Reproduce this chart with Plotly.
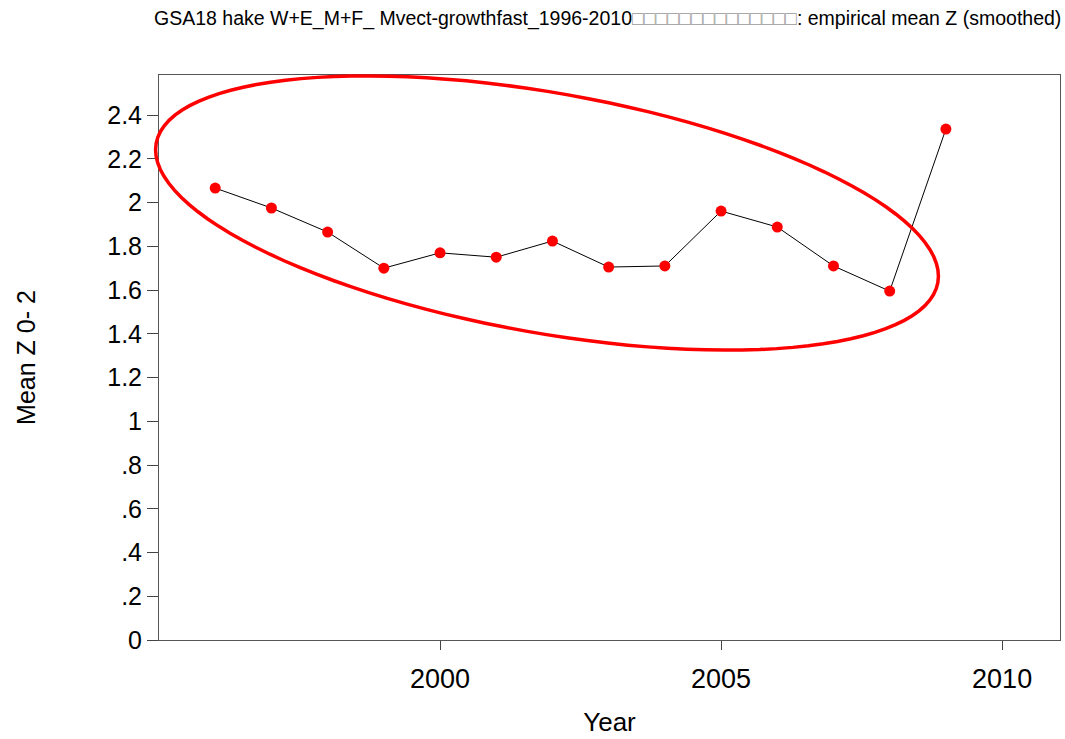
import numpy as np
import plotly.graph_objects as go

years = [1996, 1997, 1998, 1999, 2000, 2001, 2002, 2003, 2004, 2005, 2006, 2007, 2008, 2009]
mean_z = [2.066, 1.975, 1.865, 1.700, 1.770, 1.750, 1.824, 1.705, 1.710, 1.961, 1.888, 1.710, 1.595, 2.336]

y_tickvals = [0, 0.2, 0.4, 0.6, 0.8, 1, 1.2, 1.4, 1.6, 1.8, 2, 2.2, 2.4]
y_ticktext = ["0", ".2", ".4", ".6", ".8", "1", "1.2", "1.4", "1.6", "1.8", "2", "2.2", "2.4"]
x_tickvals = [2000, 2005, 2010]

title_text = ("GSA18 hake W+E_M+F_ Mvect-growthfast_1996-2010"
              + "<span style='color:#9a9a9a'>" + "\u25a1" * 14 + "</span>"
              + ": empirical mean Z (smoothed)")

W, H = 1065, 739
ML, MR, MT, MB = 159, 5, 75, 99
plot_w = W - ML - MR
plot_h = H - MT - MB
FONT = "Liberation Sans, Arial, sans-serif"

fig = go.Figure()
fig.add_trace(go.Scatter(
    x=years, y=mean_z, mode="lines+markers",
    line=dict(color="black", width=1),
    marker=dict(color="red", size=11, line=dict(width=0)),
    showlegend=False,
))

# Highlight ellipse, defined in pixel space and converted to paper coordinates
cx, cy = 547, 213          # centre (px)
a, b = 397, 120            # semi-axes (px)
theta = np.deg2rad(10.1)   # tilt, clockwise on screen
t = np.linspace(0, 2 * np.pi, 121)
px = cx + a * np.cos(theta) * np.cos(t) - b * np.sin(theta) * np.sin(t)
py = cy + a * np.sin(theta) * np.cos(t) + b * np.cos(theta) * np.sin(t)
xp = (px - ML) / plot_w
yp = (H - MB - py) / plot_h
path = "M " + " L ".join(f"{x:.5f},{y:.5f}" for x, y in zip(xp, yp)) + " Z"
fig.add_shape(type="path", path=path, xref="paper", yref="paper",
              line=dict(color="red", width=3.5))

fig.add_annotation(text=title_text, xref="paper", yref="paper",
                   x=(607 - ML) / plot_w, y=(H - MB - 19) / plot_h,
                   xanchor="center", yanchor="middle", showarrow=False,
                   font=dict(family=FONT, size=19.5, color="black"))

fig.update_layout(
    width=W, height=H,
    margin=dict(l=ML, r=MR, t=MT, b=MB),
    paper_bgcolor="white", plot_bgcolor="white",
    xaxis=dict(range=[1995.0, 2011.03], tickvals=x_tickvals, ticks="outside", ticklen=9,
               tickcolor="#444", showgrid=False, zeroline=False,
               showline=True, linecolor="#555", linewidth=1, mirror=True,
               ticklabelstandoff=6,
               tickfont=dict(family=FONT, size=27, color="black"),
               title=dict(text="Year", standoff=19,
                          font=dict(family=FONT, size=26, color="black"))),
    yaxis=dict(range=[0, 2.583], tickvals=y_tickvals, ticktext=y_ticktext, ticks="outside", ticklen=11,
               tickcolor="#444", showgrid=False, zeroline=False,
               showline=True, linecolor="#555", linewidth=1, mirror=True,
               tickfont=dict(family=FONT, size=25, color="black"),
               title=dict(text="Mean Z 0- 2", standoff=64,
                          font=dict(family=FONT, size=25, color="black"))),
)

fig.write_html("out.html")
